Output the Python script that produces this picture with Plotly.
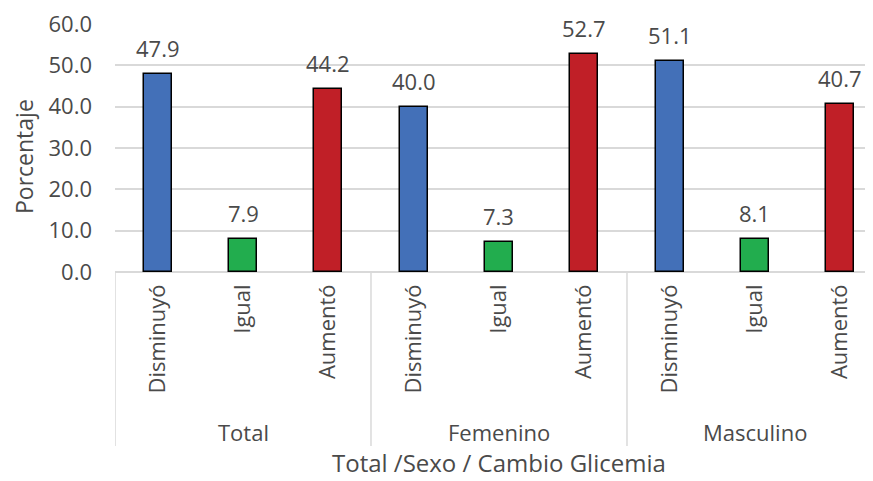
import plotly.graph_objects as go

groups = ["Total", "Femenino", "Masculino"]
changes = ["Disminuyó", "Igual", "Aumentó"]
values = [47.9, 7.9, 44.2, 40.0, 7.3, 52.7, 51.1, 8.1, 40.7]
colors_by_change = {"Disminuyó": "#4370B8", "Igual": "#22AD4E", "Aumentó": "#C01F27"}
y_ticks = [0, 10, 20, 30, 40, 50, 60]

labels = [c for g in groups for c in changes]
xs = list(range(len(values)))
bar_colors = [colors_by_change[c] for c in labels]

FONT = "Open Sans"
TXT = "#4a4a4a"
FS = 22

# page has 8px body margin; figure coordinates are page coords minus 8
OFF = 8
W, H = 873 - OFF, 481 - OFF
L, T = 115 - OFF, 24 - OFF
Y0 = 272 - OFF
PH = Y0 - T


def py(p):
    return (Y0 - (p - OFF)) / PH


def px(p):
    return (p - 115) / 758


fig = go.Figure()
fig.add_trace(go.Bar(
    x=xs, y=values, width=0.33,
    marker=dict(color=bar_colors, line=dict(color="#000000", width=1.5)),
    hoverinfo="skip", showlegend=False,
))

for x, v in zip(xs, values):
    fig.add_annotation(x=x, y=v, xref="x", yref="y", text=f"{v:.1f}",
                       showarrow=False, yshift=26, xanchor="center", yanchor="middle",
                       font=dict(family=FONT, size=FS, color=TXT))

for gi, g in enumerate(groups):
    fig.add_annotation(x=gi * 3 + 1, y=py(432), xref="x", yref="paper", text=g,
                       showarrow=False, xanchor="center", yanchor="middle",
                       font=dict(family=FONT, size=FS, color=TXT))
for d in range(len(groups) + 1):
    fig.add_shape(type="line", x0=d * 3 - 0.5, x1=d * 3 - 0.5, y0=0, y1=py(446),
                  xref="x", yref="paper", line=dict(color="#d9d9d9", width=1.5))

fig.add_annotation(x=px(499), y=py(463), xref="paper", yref="paper",
                   text="Total /Sexo / Cambio Glicemia", showarrow=False,
                   xanchor="center", yanchor="middle",
                   font=dict(family=FONT, size=24, color=TXT))
fig.add_annotation(x=px(24), y=py(157), xref="paper", yref="paper",
                   text="Porcentaje", textangle=-90, showarrow=False,
                   xanchor="center", yanchor="middle",
                   font=dict(family=FONT, size=23, color=TXT))

fig.update_layout(
    width=W, height=H,
    margin=dict(l=L, r=0, t=T, b=H - Y0),
    paper_bgcolor="white", plot_bgcolor="white",
    bargap=0,
    xaxis=dict(range=[-0.5, 8.383], tickmode="array", tickvals=xs, ticktext=labels,
               tickangle=-90, showgrid=False, zeroline=False, showline=False,
               ticks="", ticklabelstandoff=7,
               tickfont=dict(family=FONT, size=FS, color=TXT)),
    yaxis=dict(range=[0, 60], tickmode="array", tickvals=y_ticks,
               ticktext=[f"{t:.1f}" for t in y_ticks],
               showgrid=True, gridcolor="#d9d9d9", gridwidth=1.5,
               zeroline=True, zerolinecolor="#d9d9d9", zerolinewidth=1.5,
               showline=False, ticks="", ticklabelstandoff=22,
               ticklabeloverflow="allow",
               tickfont=dict(family=FONT, size=FS, color=TXT)),
)

fig.write_html("out.html")
